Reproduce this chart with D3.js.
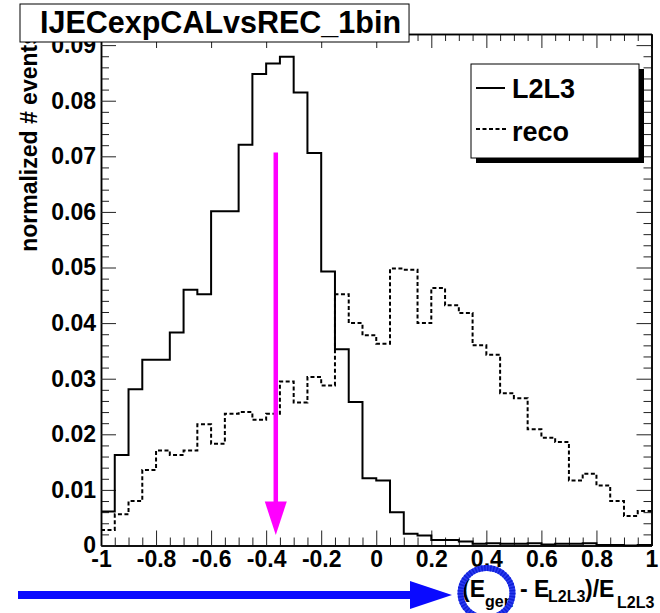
<!DOCTYPE html>
<html>
<head>
<meta charset="utf-8">
<script src="https://cdn.jsdelivr.net/npm/d3@7"></script>
<style>
  html, body { margin: 0; padding: 0; background: #fff; }
  svg { display: block; }
  text { font-family: "Liberation Sans", Arial, Helvetica, sans-serif; font-weight: bold; fill: #000; }
</style>
</head>
<body>
<svg id="chart" width="660" height="613"></svg>
<script>
// Bin edges of the response histogram, (E_gen - E_L2L3)/E_L2L3
const binEdges = [-1.00, -0.95, -0.90, -0.85, -0.80, -0.75, -0.70, -0.65, -0.60, -0.55,
                  -0.50, -0.45, -0.40, -0.35, -0.30, -0.25, -0.20, -0.15, -0.10, -0.05,
                   0.00,  0.05,  0.10,  0.15,  0.20,  0.25,  0.30,  0.35,  0.40,  0.45,
                   0.50,  0.55,  0.60,  0.65,  0.70,  0.75,  0.80,  0.85,  0.90,  0.95, 1.00];

// Normalized bin contents, L2L3-corrected jets
const l2l3 = [0.0061, 0.0163, 0.0281, 0.0334, 0.0334, 0.0383, 0.0460, 0.0452, 0.0601, 0.0601,
              0.0721, 0.0848, 0.0867, 0.0879, 0.0815, 0.0706, 0.0493, 0.0353, 0.0258, 0.0121,
              0.0117, 0.0060, 0.0021, 0.0018, 0.0010, 0.0010, 0.0007, 0.0003, 0.0004, 0.0003,
              0.0003, 0.0004, 0.0002, 0.0003, 0.0003, 0.0004, 0.0001, 0.0001, 0.0000, 0.0001];

// Normalized bin contents, reco jets
const reco = [0.0028, 0.0056, 0.0080, 0.0136, 0.0171, 0.0163, 0.0171, 0.0218, 0.0183, 0.0237,
              0.0240, 0.0226, 0.0237, 0.0295, 0.0257, 0.0303, 0.0288, 0.0452, 0.0400, 0.0378,
              0.0363, 0.0498, 0.0496, 0.0400, 0.0463, 0.0432, 0.0418, 0.0360, 0.0343, 0.0274,
              0.0265, 0.0209, 0.0194, 0.0186, 0.0117, 0.0129, 0.0108, 0.0080, 0.0053, 0.0062];

const xTicks = [-1, -0.8, -0.6, -0.4, -0.2, 0, 0.2, 0.4, 0.6, 0.8, 1];
const yTicks = [0, 0.01, 0.02, 0.03, 0.04, 0.05, 0.06, 0.07, 0.08, 0.09];
const seriesNames = ["L2L3", "reco"];
const titleText = "IJECexpCALvsREC_1bin";
const yTitle = "normalized # events";

// Marker arrow at the mean of the L2L3 response
const meanMarker = { x: -0.365, yTop: 0.0707, yHead: 0.0079, yTip: 0.0019 };

const svg = d3.select("#chart");
const frame = { left: 101, right: 651.5, top: 34, bottom: 545.5 };

const x = d3.scaleLinear().domain([-1, 1]).range([frame.left, frame.right]);
const y = d3.scaleLinear().domain([0, 0.0920]).range([frame.bottom, frame.top]);

// ---- y-axis title (the title box is drawn later and covers its end)
svg.append("text")
  .attr("transform", `translate(37,32) rotate(-90)`)
  .attr("text-anchor", "end")
  .style("font-size", "23px")
  .text(yTitle);

// ---- axes
const tickColor = "#222";
function styleAxis(g) {
  g.selectAll("path.domain").attr("stroke", "#000").attr("stroke-width", 1.5);
  g.selectAll(".tick line").attr("stroke", tickColor).attr("stroke-width", 1);
  g.selectAll(".tick text")
    .style("font-family", '"Liberation Sans", Arial, Helvetica, sans-serif')
    .style("font-weight", "bold")
    .style("font-size", "23px")
    .attr("fill", "#000");
}
const xMinor = d3.range(0, 41).map(i => -1 + i * 0.05).filter(v => Math.abs(Math.round(v * 5) - v * 5) > 1e-6);
const yMinor = d3.range(0, 46).map(i => i * 0.002).filter(v => v <= 0.092 && Math.abs(Math.round(v * 100) - v * 100) > 1e-6);

const fmtX = d => (d === 0 ? "0" : String(+d.toFixed(1)));
const fmtY = d => (d === 0 ? "0" : d.toFixed(2));

// bottom
svg.append("g").attr("transform", `translate(0,${frame.bottom})`)
  .call(d3.axisBottom(x).tickValues(xMinor).tickSizeInner(-8).tickSizeOuter(0).tickFormat(""))
  .call(styleAxis);
svg.append("g").attr("transform", `translate(0,${frame.bottom})`)
  .call(d3.axisBottom(x).tickValues(xTicks).tickSizeInner(-15).tickSizeOuter(0).tickPadding(5).tickFormat(fmtX))
  .call(styleAxis);
// top
svg.append("g").attr("transform", `translate(0,${frame.top})`)
  .call(d3.axisTop(x).tickValues(xMinor).tickSizeInner(-7).tickSizeOuter(0).tickFormat(""))
  .call(styleAxis);
svg.append("g").attr("transform", `translate(0,${frame.top})`)
  .call(d3.axisTop(x).tickValues(xTicks).tickSizeInner(-14).tickSizeOuter(0).tickFormat(""))
  .call(styleAxis);
// left
svg.append("g").attr("transform", `translate(${frame.left},0)`)
  .call(d3.axisLeft(y).tickValues(yMinor).tickSizeInner(-8).tickSizeOuter(0).tickFormat(""))
  .call(styleAxis);
svg.append("g").attr("transform", `translate(${frame.left},0)`)
  .call(d3.axisLeft(y).tickValues(yTicks).tickSizeInner(-15).tickSizeOuter(0).tickPadding(5).tickFormat(fmtY))
  .call(styleAxis);
// right
svg.append("g").attr("transform", `translate(${frame.right},0)`)
  .call(d3.axisRight(y).tickValues(yMinor).tickSizeInner(-8).tickSizeOuter(0).tickFormat(""))
  .call(styleAxis);
svg.append("g").attr("transform", `translate(${frame.right},0)`)
  .call(d3.axisRight(y).tickValues(yTicks).tickSizeInner(-15).tickSizeOuter(0).tickFormat(""))
  .call(styleAxis);

// ---- histograms (step outlines)
function stepPath(values) {
  const p = d3.path();
  values.forEach((v, i) => {
    const x0 = x(binEdges[i]), x1 = x(binEdges[i + 1]), yy = y(v);
    if (i === 0) p.moveTo(x0, yy); else p.lineTo(x0, yy);
    p.lineTo(x1, yy);
  });
  return p.toString();
}
svg.append("path").attr("d", stepPath(reco))
  .attr("fill", "none").attr("stroke", "#000").attr("stroke-width", 2)
  .attr("stroke-dasharray", "4,2.5");
svg.append("path").attr("d", stepPath(l2l3))
  .attr("fill", "none").attr("stroke", "#000").attr("stroke-width", 2);

// ---- magenta mean arrow
const magenta = "#ff00ff";
svg.append("line")
  .attr("x1", x(meanMarker.x)).attr("x2", x(meanMarker.x))
  .attr("y1", y(meanMarker.yTop)).attr("y2", y(meanMarker.yHead) + 2)
  .attr("stroke", magenta).attr("stroke-width", 4.5);
svg.append("path")
  .attr("d", `M${x(meanMarker.x) - 11},${y(meanMarker.yHead)} L${x(meanMarker.x) + 11},${y(meanMarker.yHead)} L${x(meanMarker.x)},${y(meanMarker.yTip)} Z`)
  .attr("fill", magenta);

// ---- legend
const lg = svg.append("g");
lg.append("rect").attr("x", 476).attr("y", 69).attr("width", 168).attr("height", 94).attr("fill", "#000");
lg.append("rect").attr("x", 471).attr("y", 64).attr("width", 168).attr("height", 94)
  .attr("fill", "#fff").attr("stroke", "#000").attr("stroke-width", 1);
lg.append("line").attr("x1", 476).attr("x2", 505).attr("y1", 88).attr("y2", 88)
  .attr("stroke", "#000").attr("stroke-width", 2);
lg.append("line").attr("x1", 476).attr("x2", 506).attr("y1", 129).attr("y2", 129)
  .attr("stroke", "#000").attr("stroke-width", 2).attr("stroke-dasharray", "4,2.5");
lg.append("text").attr("x", 512).attr("y", 98).style("font-size", "27px").text(seriesNames[0]);
lg.append("text").attr("x", 512).attr("y", 141).style("font-size", "27px").text(seriesNames[1]);

// ---- title box
const tg = svg.append("g");
const tRect = tg.append("rect").attr("x", 20).attr("y", 4).attr("height", 38).attr("width", 390)
  .attr("fill", "#fff").attr("stroke", "#000").attr("stroke-width", 1);
const tText = tg.append("text").attr("x", 40).attr("y", 33).style("font-size", "30.5px").text(titleText);
const tw = tText.node().getComputedTextLength();
tRect.attr("width", 40 + tw + 8 - 20);

// ---- x-axis title with subscripts
const xt = svg.append("text").style("font-size", "23px");
xt.append("tspan").attr("x", 462).attr("y", 597).text("(E");
xt.append("tspan").attr("x", 485).attr("y", 607).style("font-size", "16px").text("gen");
xt.append("tspan").attr("x", 520).attr("y", 597).text("- E");
xt.append("tspan").attr("x", 548).attr("y", 602).style("font-size", "16px").text("L2L3");
xt.append("tspan").attr("x", 585).attr("y", 597).text(")/E");
xt.append("tspan").attr("x", 617).attr("y", 608).style("font-size", "16px").text("L2L3");

// ---- blue annotation: arrow pointing to the axis title and a ring around E_gen
const blue = "#0a0aff";
svg.append("path")
  .attr("d", "M18,591 L410,591 L410,581 L452,595 L410,609 L410,599 L18,599 Z")
  .attr("fill", blue);
svg.append("ellipse").attr("cx", 486.5).attr("cy", 593).attr("rx", 26).attr("ry", 25)
  .attr("fill", "none").attr("stroke", "#2b3cf0").attr("stroke-width", 6);
svg.append("ellipse").attr("cx", 486.5).attr("cy", 593).attr("rx", 26).attr("ry", 25)
  .attr("fill", "none").attr("stroke", "#1020d8").attr("stroke-width", 6).attr("stroke-dasharray", "1.5,1.5");
</script>
</body>
</html>
